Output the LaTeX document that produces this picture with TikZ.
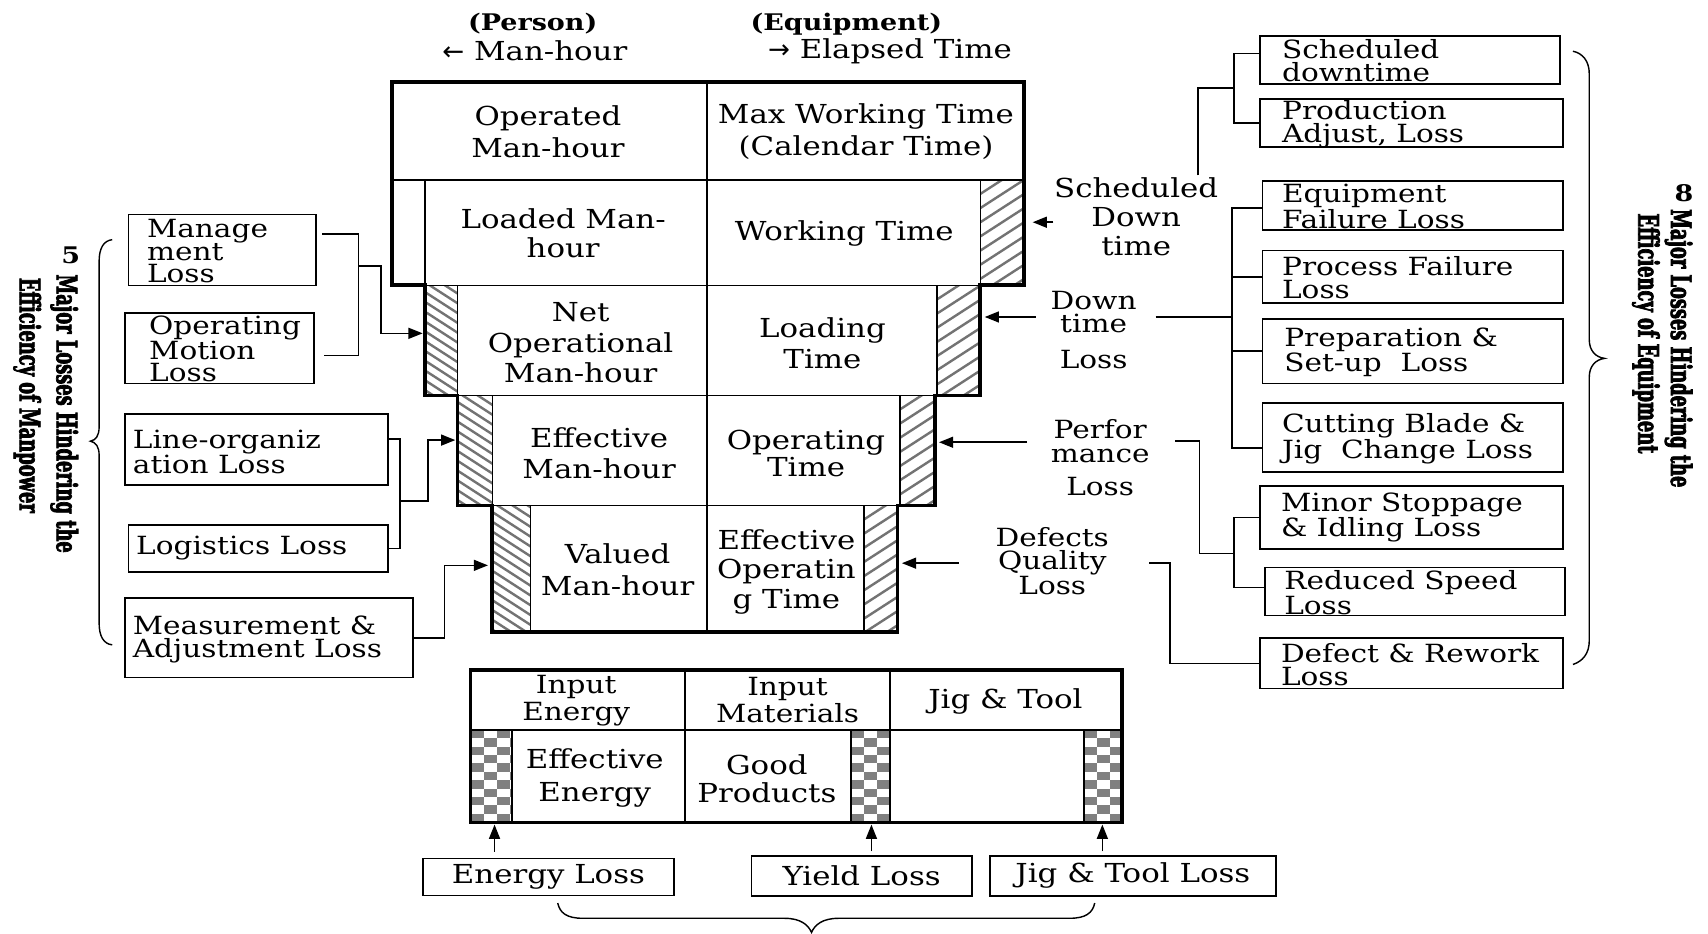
\documentclass[tikz,border=0pt]{standalone}
\usepackage{fontspec}
\setmainfont{DejaVu Serif}[FakeStretch=1.18]
\newfontfamily\symfont{DejaVu Sans}
\newfontfamily\sidefont{DejaVu Serif}[FakeStretch=0.63,FakeBold=2.5]
\usetikzlibrary{arrows.meta}
\newcommand\mainfs{\fontsize{24}{29}\selectfont}
\newcommand\tightfs{\fontsize{23}{21}\selectfont}
\newcommand\headfs{\fontsize{21}{24}\selectfont\bfseries}
\newcommand\sidefs{\sidefont\bfseries\fontsize{26}{30}\selectfont}
\colorlet{hatchc}{black!55}
\colorlet{chkc}{black!50}
\newcommand\hatchR[4]{\begin{scope}\clip (#1,#2) rectangle (#3,#4);
  \foreach \k in {0,...,12}{\draw[hl] (#1,{#2+13*\k}) -- ++(150,-97);}\end{scope}}
\newcommand\hatchL[4]{\begin{scope}\clip (#1,#2) rectangle (#3,#4);
  \foreach \k in {0,...,18}{\draw[hl] (#1,{#2-30+9*\k}) -- ++(150,97);}\end{scope}}
\newcommand\checker[4]{\begin{scope}\clip (#1,#2) rectangle (#3,#4);
  \foreach \i in {0,...,3}{\foreach \j in {0,...,12}{%
    \pgfmathtruncatemacro\m{mod(\i+\j,2)}%
    \ifnum\m=0 \fill[chkc] ({#1+\i*12},{#2+\j*7.7}) rectangle ++(12,7.7);\fi}}\end{scope}}
\tikzset{
  every node/.style={inner sep=0pt, outer sep=0pt},
  box/.style={draw, line width=1.6pt, anchor=north west},
  cbox/.style={draw, line width=1.6pt, anchor=center, font=\mainfs},
  txt/.style={align=center, font=\mainfs},
  btxt/.style={align=left, font=\tightfs, anchor=west},
  ctxt/.style={align=center, font=\tightfs},
  outline/.style={line width=3.5pt, line join=miter},
  thinl/.style={line width=1.5pt},
  hl/.style={line width=2.2pt, hatchc},
  conn/.style={line width=1.5pt},
  arr/.style={line width=1.5pt, -{Triangle[length=13pt,width=10pt]}},
  brace/.style={line width=1.3pt},
}
\begin{document}
\begin{tikzpicture}[x=1pt,y=-1pt]
\fill[white] (0,0) rectangle (1568,857);
\useasboundingbox (0,0) rectangle (1568,857);

% ---------- headers ----------
\node[font=\headfs] (pers) at (489,22) {(Person)};
\node[txt] (mh) at (491,47) {{\symfont ←} Man-hour};
\node[font=\headfs] (equip) at (777,22) {(Equipment)};
\node[txt] (et) at (817,47) {{\symfont →} Elapsed Time};

% ---------- main staircase ----------
\hatchR{900}{165}{940}{262}
\hatchL{390}{262}{420}{363}
\hatchR{860}{262}{900}{363}
\hatchL{420}{363}{452}{464}
\hatchR{826}{363}{858}{464}
\hatchL{452}{464}{487}{580}
\hatchR{793}{464}{824}{580}
\draw[thinl] (360,165) -- (940,165) (390,262) -- (900,262) (420,363) -- (858,363) (452,464) -- (824,464);
\draw[thinl] (649,75) -- (649,580);
\draw[thinl] (390,165) -- (390,262) (900,165) -- (900,262);
\draw[thinl] (420,262) -- (420,363) (860,262) -- (860,363);
\draw[thinl] (452,363) -- (452,464) (826,363) -- (826,464);
\draw[thinl] (487,464) -- (487,580) (793,464) -- (793,580);
\draw[outline] (360,75) -- (940,75) -- (940,262) -- (900,262) -- (900,363) -- (858,363) -- (858,464) -- (824,464) -- (824,580) -- (452,580) -- (452,464) -- (420,464) -- (420,363) -- (390,363) -- (390,262) -- (360,262) -- cycle;

\node[txt] (c11) at (503,121) {Operated\\Man-hour};
\node[txt] (c12) at (795,121) {Max Working Time\\(Calendar Time)};
\node[txt, font=\fontsize{24}{26}\selectfont] (c21) at (517,214) {Loaded Man-\\hour};
\node[txt] (c22) at (775,214) {Working Time};
\node[txt, font=\fontsize{24}{28}\selectfont] (c31) at (533,315) {Net\\Operational\\Man-hour};
\node[txt] (c32) at (755,315) {Loading\\Time};
\node[txt] (c41) at (550,416) {Effective\\Man-hour};
\node[txt, font=\fontsize{24}{25}\selectfont] (c42) at (740,416) {Operating\\Time};
\node[txt] (c51) at (567,523) {Valued\\Man-hour};
\node[txt, font=\fontsize{24}{27}\selectfont] (c52) at (722,525) {Effective\\Operatin\\g Time};

% ---------- left boxes ----------
\node[box, minimum width=172, minimum height=65] (mg) at (118,197) {};
\node[btxt] (mgt) at (135,230.5) {Manage\\ment\\Loss};
\node[box, minimum width=173, minimum height=65] (om) at (115,287) {};
\node[btxt, font=\fontsize{23}{20}\selectfont] (omt) at (137,320.5) {Operating\\Motion\\Loss};
\node[box, minimum width=241, minimum height=65] (lo) at (115,380) {};
\node[btxt] (lot) at (122,415) {Line-organiz\\ation Loss};
\node[box, minimum width=238, minimum height=43] (lg) at (118,482) {};
\node[btxt] (lgt) at (125,503.5) {Logistics Loss};
\node[box, minimum width=264, minimum height=73] (me) at (115,549) {};
\node[btxt] (met) at (122,587) {Measurement \&\\Adjustment Loss};

% left connectors
\coordinate (jm1) at (329,244);
\coordinate (jm2) at (350,306);
\coordinate (r3w) at (388,306);
\draw[conn] ([shift={(6pt,14.5pt)}]mg.east) -| (jm1) |- ([shift={(9pt,-7pt)}]om.east);
\draw[arr] (jm1) -| (jm2) -- (r3w);
\coordinate (jl1) at (367,460);
\coordinate (jl2) at (393,404);
\coordinate (r4w) at (418,404);
\draw[conn] ([yshift=9.5pt]lo.east) -| (jl1) |- (lg.east);
\draw[arr] (jl1) -| (jl2) -- (r4w);
\coordinate (jme) at (408,519);
\coordinate (r5w) at (448,519);
\draw[arr] (me.east) -| (jme) -- (r5w);

% left brace and label
\draw[brace] (103,220) .. controls (95,221) and (91,228) .. (91,240) -- (91,392)
  .. controls (91,400) and (88,404) .. (83,405) .. controls (88,406) and (91,410) .. (91,418)
  -- (91,572) .. controls (91,584) and (95,591) .. (103,592);
\node[font=\headfs] (five) at (65,234) {5};
\node[font=\sidefs, rotate=-90, anchor=west] (lt1) at (59,252) {Major Losses Hindering the};
\node[font=\sidefs, rotate=-90, anchor=west] (lt2) at (25,255) {Efficiency of Manpower};

% ---------- right side texts ----------
\node[txt, font=\fontsize{24}{27}\selectfont] (sdt) at (1043,199) {Scheduled\\Down\\time};
\node[ctxt] (dtt) at (1004,303) {Down\\time\\[12pt]Loss};
\node[ctxt, font=\fontsize{23}{22}\selectfont] (pft) at (1010,420) {Perfor\\mance\\[8pt]Loss};
\node[ctxt] (dft) at (966,515) {Defects\\Quality\\Loss};

% right boxes
\node[box, minimum width=275, minimum height=44] (sd) at (1157,33) {};
\node[btxt] (sdx) at (1177,56) {Scheduled\\downtime};
\node[box, minimum width=278, minimum height=44] (pa) at (1157,91) {};
\node[btxt] (pax) at (1177,114) {Production\\Adjust, Loss};
\node[box, minimum width=276, minimum height=45] (ef) at (1159,166) {};
\node[btxt] (efx) at (1177,189.5) {Equipment\\Failure Loss};
\node[box, minimum width=276, minimum height=48] (pf) at (1159,230) {};
\node[btxt] (pfx) at (1177,255) {Process Failure\\Loss};
\node[box, minimum width=276, minimum height=59] (ps) at (1159,293) {};
\node[btxt] (psx) at (1179,323.5) {Preparation \&\\Set-up~ Loss};
\node[box, minimum width=276, minimum height=63] (cb) at (1159,370) {};
\node[btxt] (cbx) at (1177,403) {Cutting Blade \&\\Jig~ Change Loss};
\node[box, minimum width=278, minimum height=58] (ms) at (1157,446) {};
\node[btxt] (msx) at (1176,475) {Minor Stoppage\\\& Idling Loss};
\node[box, minimum width=276, minimum height=44] (rs) at (1161,521) {};
\node[btxt] (rsx) at (1179,544) {Reduced Speed\\Loss};
\node[box, minimum width=278, minimum height=46] (dr) at (1157,586) {};
\node[btxt] (drx) at (1176,610) {Defect \& Rework\\Loss};

% right connectors
\coordinate (js0) at (1100,161);
\coordinate (js) at (1133,81);
\draw[conn] (js0) |- (js);
\draw[conn] ([yshift=6pt]sd.west) -| (js) |- (pa.west);
\coordinate (sa0) at (967,204);
\coordinate (sa1) at (948,204);
\draw[arr] (sa0) -- (sa1);

\coordinate (jd) at (1131,291);
\coordinate (dtr) at (1061,291);
\coordinate (dtl) at (951,291);
\coordinate (r3e) at (904,291);
\draw[conn] ([yshift=-2.5pt]ef.west) -| (jd) |- ([yshift=-9.5pt]cb.west);
\draw[conn] (jd |- pf.west) -- (pf.west);
\draw[conn] (jd |- ps.west) -- (ps.west);
\draw[conn] (dtr) -- (jd);
\draw[arr] (dtl) -- (r3e);

\coordinate (pr) at (1079,405);
\coordinate (jp0) at (1101,508);
\coordinate (jp) at (1133,508);
\coordinate (pl) at (943,406);
\coordinate (r4e) at (862,406);
\draw[conn] (pr) -| (jp0) -- (jp);
\draw[conn] (ms.west) -| (jp) |- ([yshift=3.5pt]rs.west);
\draw[arr] (pl) -- (r4e);

\coordinate (dfr) at (1055,517);
\coordinate (jdf) at (1074,609);
\coordinate (dfl) at (880,517);
\coordinate (r5e) at (828,517);
\draw[conn] (dfr) -| (jdf) -- (dr.west);
\draw[arr] (dfl) -- (r5e);

% right brace and label
\draw[brace] (1444,47) .. controls (1453,49) and (1459,56) .. (1459,68) -- (1459,312)
  .. controls (1459,322) and (1465,328) .. (1473,329) .. controls (1465,330) and (1459,336) .. (1459,346)
  -- (1459,588) .. controls (1459,600) and (1453,607) .. (1444,610);
\node[font=\headfs] (eight) at (1546,177) {8};
\node[font=\sidefs, rotate=-90, anchor=west] (rt1) at (1541,192) {Major Losses Hindering the};
\node[font=\sidefs, rotate=-90, anchor=west] (rt2) at (1511,196) {Efficiency of Equipment};

% ---------- bottom table ----------
\checker{432}{670}{470}{755}
\checker{781}{670}{817}{755}
\checker{995}{670}{1030}{755}
\draw[thinl] (432,670) -- (1030,670) (629,615) -- (629,755) (817,615) -- (817,755);
\draw[thinl] (470,670) -- (470,755) (781,670) -- (781,755) (995,670) -- (995,755);
\draw[outline] (432,615) rectangle (1030,755);
\node[ctxt, font=\fontsize{23}{25}\selectfont] (ie) at (529,643) {Input\\Energy};
\node[ctxt, font=\fontsize{23}{25}\selectfont] (im) at (723,643) {Input\\Materials};
\node[txt] (jt) at (923,644) {Jig \& Tool};
\node[ctxt, font=\fontsize{24}{30}\selectfont] (ee) at (546,714) {Effective\\Energy};
\node[ctxt, font=\fontsize{24}{25}\selectfont] (gp) at (704,715) {Good\\Products};

\node[cbox, minimum width=231, minimum height=34] (el) at (503.5,805) {Energy Loss};
\node[cbox, minimum width=202, minimum height=37] (yl) at (791,804) {Yield Loss};
\node[cbox, minimum width=263, minimum height=37] (jl) at (1040,804) {Jig \& Tool Loss};
\coordinate (ea) at (454,757);
\coordinate (ya) at (800,757);
\coordinate (ja) at (1012,757);
\draw[arr] (el.north -| ea) ++(0,-6) -- (ea);
\draw[arr] (yl.north -| ya) ++(0,-4) -- (ya);
\draw[arr] (jl.north -| ja) ++(0,-4) -- (ja);
\draw[brace] (512,829) .. controls (514,838) and (520,843) .. (535,843) -- (720,843)
  .. controls (735,843) and (742,849) .. (745,856) .. controls (748,849) and (755,843) .. (770,843)
  -- (982,843) .. controls (997,843) and (1003,838) .. (1005,829);
\end{tikzpicture}
\end{document}
